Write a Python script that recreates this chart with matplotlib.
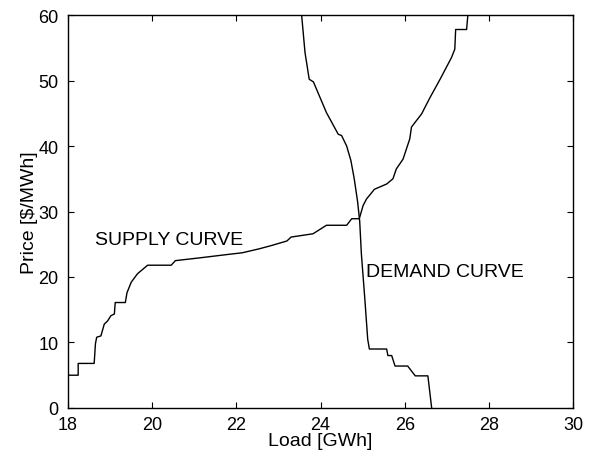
import matplotlib
matplotlib.use("Agg")
import matplotlib.pyplot as plt

supply_load = [18.0, 18.24, 18.24, 18.62, 18.65, 18.68, 18.78, 18.86, 18.94, 19.02, 19.1, 19.12,
               19.36, 19.4, 19.5, 19.65, 19.89, 20.45, 20.55, 21.1, 21.74, 22.14, 22.54, 22.83,
               23.2, 23.3, 23.82, 24.14, 24.62, 24.74, 24.92, 25.01, 25.09, 25.28, 25.57, 25.72,
               25.8, 25.96, 26.12, 26.16, 26.4, 26.6, 26.84, 27.11, 27.19, 27.21, 27.47, 27.5]
supply_price = [5.0, 5.0, 6.8, 6.8, 9.8, 10.8, 11.0, 12.8, 13.3, 14.1, 14.35, 16.1,
                16.1, 17.6, 19.2, 20.5, 21.8, 21.8, 22.5, 22.9, 23.4, 23.7, 24.3, 24.8,
                25.5, 26.1, 26.6, 27.9, 27.9, 28.9, 28.9, 30.9, 31.9, 33.4, 34.2, 35.0,
                36.5, 38.0, 41.1, 42.9, 44.9, 47.4, 50.2, 53.5, 54.8, 57.8, 57.8, 60.0]

demand_load = [23.55, 23.63, 23.73, 23.83, 24.14, 24.42, 24.5, 24.62, 24.72, 24.8, 24.88, 24.93,
               24.97, 25.05, 25.12, 25.16, 25.57, 25.6, 25.69, 25.77, 26.07, 26.25, 26.55, 26.64]
demand_price = [60, 54.3, 50.2, 49.8, 45.1, 41.8, 41.6, 40.0, 37.8, 35.0, 31.5, 28.5,
                23.5, 16.8, 10.5, 9.0, 9.0, 8.0, 8.0, 6.4, 6.4, 4.9, 4.9, 0]

x_ticks = [18, 20, 22, 24, 26, 28, 30]
y_ticks = [0, 10, 20, 30, 40, 50, 60]

plt.rcParams['font.family'] = ['Liberation Sans', 'DejaVu Sans']

fig = plt.figure(figsize=(5.92, 4.60), dpi=100)
ax = fig.add_axes([0.115, 0.111, 0.853, 0.854])

ax.plot(supply_load, supply_price, color='black', lw=1.0)
ax.plot(demand_load, demand_price, color='black', lw=1.0)

ax.text(18.64, 25.8, 'SUPPLY CURVE', fontsize=14, va='center', ha='left')
ax.text(25.08, 20.9, 'DEMAND CURVE', fontsize=14, va='center', ha='left')

ax.set_xlim(18, 30)
ax.set_ylim(0, 60)
ax.set_xticks(x_ticks)
ax.set_yticks(y_ticks)
ax.tick_params(direction='in', top=True, right=True, length=4, width=0.8, labelsize=13)
ax.tick_params(axis='x', pad=6)
ax.tick_params(axis='y', pad=7)
ax.set_xlabel('Load [GWh]', fontsize=14, labelpad=-1)
ax.set_ylabel('Price [$/MWh]', fontsize=14, labelpad=0)
for s in ax.spines.values():
    s.set_linewidth(1.0)

fig.savefig('out.png', dpi=100)
